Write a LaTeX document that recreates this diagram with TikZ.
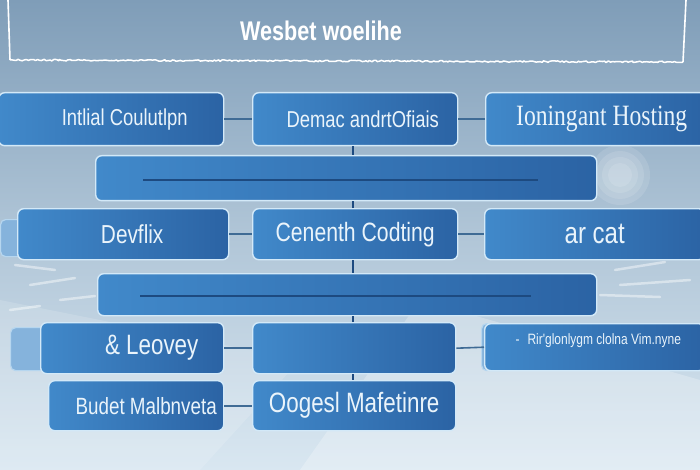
\documentclass[tikz,border=0pt]{standalone}
\usepackage{fontspec}
\setmainfont{Liberation Sans}
\newfontfamily\cond[FakeStretch=0.80]{Liberation Sans}
\newfontfamily\condser[FakeStretch=0.80]{Liberation Serif}
\usetikzlibrary{decorations.pathmorphing,shadings}
\definecolor{bgtop}{HTML}{7F9DB8}
\definecolor{bgbot}{HTML}{D9E7F1}
\definecolor{boxl}{HTML}{4189CA}
\definecolor{boxr}{HTML}{2B63A4}
\definecolor{edge}{HTML}{D3E9F8}
\definecolor{txt}{HTML}{EAF4FB}
\definecolor{conn}{HTML}{3F6B95}
\definecolor{inner}{HTML}{1D4A80}
\tikzset{
  box/.style={draw=edge, line width=1.4pt, rounded corners=6pt, left color=boxl, right color=boxr,
    anchor=north west, inner sep=0pt, text=txt, font=\cond\fontsize{20}{22}\selectfont},
  backbox/.style={draw=edge!80!boxl, line width=1.2pt, rounded corners=5pt, fill=boxl!55!bgbot,
    anchor=north west, inner sep=0pt},
  link/.style={draw=conn, line width=1.6pt},
  vlink/.style={draw=inner, line width=2pt},
  barline/.style={draw=inner, line width=1.6pt},
  rough/.style={white, line width=1.5pt, line join=round, decorate, decoration={random steps, segment length=2pt, amplitude=0.8pt}},
  plainedge/.style={white, line width=1.6pt},
  streak/.style={white, opacity=0.45, line width=2.5pt, line cap=round}
}
\begin{document}
\begin{tikzpicture}[x=1pt,y=-1pt]
\useasboundingbox (0,0) rectangle (700,470);
% background
\shade[top color=bgtop, bottom color=bgbot, middle color=bgtop!45!bgbot] (0,0) rectangle (700,470);
\fill[white, opacity=0.25] (300,470) -- (420,300) -- (700,380) -- (700,470) -- cycle;
\fill[white, opacity=0.15] (0,300) -- (300,360) -- (200,470) -- (0,470) -- cycle;
\foreach \r in {30,24,18,12} {\fill[white, opacity=0.12] (620,175) circle (\r);}
% speed streaks
\draw[streak] (15,265) -- (55,270);
\draw[streak] (30,285) -- (75,278);
\draw[streak] (60,300) -- (95,296);
\draw[streak] (10,310) -- (40,306);
\draw[streak] (615,270) -- (665,262);
\draw[streak] (620,285) -- (690,280);
\draw[streak] (600,295) -- (660,297);
% title frame (left, bottom, right edges)
\coordinate (tl) at (8,0);
\coordinate (bl) at (10,60);
\coordinate (br) at (683,62);
\coordinate (tr) at (686,0);
\draw[plainedge] (tl) -- (bl);
\draw[rough] (bl) -- (br);
\draw[plainedge] (br) -- (tr);
\node[font=\bfseries\cond\fontsize{27}{29}\selectfont, text=white] (title) at (321,31) {Wesbet woelihe};
% back boxes
\node[backbox, minimum width=30pt, minimum height=37pt] (bk1) at (0,219) {};
\node[backbox, minimum width=40pt, minimum height=43pt] (bk2) at (10,327) {};
\node[backbox, minimum width=30pt, minimum height=47pt] (bk3) at (481,323) {};
% row 1
\node[box, minimum width=225pt, minimum height=53pt, font=\cond\fontsize{23}{25}\selectfont] (a) at (-2,92) {\hspace*{27pt}Intlial Coulutlpn};
\node[box, minimum width=205pt, minimum height=53pt, font=\cond\fontsize{23}{25}\selectfont] (b) at (252,92) {\hspace*{15pt}Demac andrtOfiais};
\node[box, minimum width=220pt, minimum height=53pt, font=\condser\fontsize{29.5}{31}\selectfont] (c) at (485,92) {\hspace*{12pt}Ioningant Hosting};
% bar 1
\node[box, minimum width=501pt, minimum height=45pt] (bar1) at (95,155) {};
\draw[barline] ([xshift=48pt,yshift=-2pt]bar1.west) -- ([xshift=-59pt,yshift=-2pt]bar1.east);
% row 2
\node[box, minimum width=211pt, minimum height=51pt, font=\cond\fontsize{26}{28}\selectfont] (d) at (17,208) {\hspace*{18pt}Devflix};
\node[box, minimum width=205pt, minimum height=51pt, font=\cond\fontsize{26.5}{28}\selectfont] (e) at (252,208) {Cenenth Codting};
\node[box, minimum width=220pt, minimum height=51pt, font=\cond\fontsize{30}{32}\selectfont] (f) at (484,208) {ar cat};
% bar 2
\node[box, minimum width=499pt, minimum height=42pt] (bar2) at (97,273) {};
\draw[barline] ([xshift=43pt,yshift=-1pt]bar2.west) -- ([xshift=-66pt,yshift=-1pt]bar2.east);
% row 3
\node[box, minimum width=183pt, minimum height=51pt, font=\cond\fontsize{28}{30}\selectfont] (g) at (40,322) {\hspace*{39pt}\& Leovey};
\node[box, minimum width=203pt, minimum height=51pt] (h) at (252,322) {};
\node[box, minimum width=220pt, minimum height=47pt] (i) at (484,323) {};
\node[text=txt, font=\cond\fontsize{15}{17}\selectfont, anchor=west] (itxt) at ([xshift=28pt]i.north west |- 0,341) {-\hspace{8pt}Rir'glonlygm clolna Vim.nyne};
% row 4
\node[box, minimum width=175pt, minimum height=50pt, font=\cond\fontsize{23.5}{25}\selectfont] (j) at (48,380) {\hspace*{20pt}Budet Malbnveta};
\node[box, minimum width=203pt, minimum height=50pt, font=\cond\fontsize{28}{30}\selectfont] (k) at (252,380) {Oogesl Mafetinre};
% horizontal connectors
\draw[link] (a.east) -- (b.west);
\draw[link] (b.east) -- (c.west);
\draw[link] (d.east) -- (e.west);
\draw[link] (e.east) -- (f.west);
\draw[link] (g.east) -- (h.west);
\draw[link] (h.east) -- (i.west);
\draw[link] (j.east) -- (k.west);
% central vertical links
\draw[vlink] ([xshift=-2pt]b.south) -- ([xshift=-2pt]b.south |- bar1.north);
\draw[vlink] ([xshift=-2pt]e.north) -- ([xshift=-2pt]e.north |- bar1.south);
\draw[vlink] ([xshift=-2pt]e.south) -- ([xshift=-2pt]e.south |- bar2.north);
\draw[vlink] ([xshift=-1pt]h.north) -- ([xshift=-1pt]h.north |- bar2.south);
\draw[vlink] ([xshift=-1pt]h.south) -- ([xshift=-1pt]k.north);
\end{tikzpicture}
\end{document}
